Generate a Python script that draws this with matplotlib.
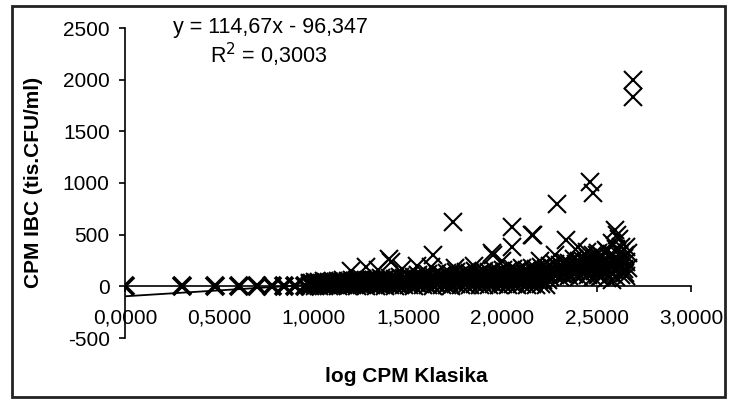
import matplotlib
matplotlib.use("Agg")
import matplotlib.pyplot as plt
import matplotlib.patches as patches
import numpy as np

plt.rcParams['font.family'] = ['Liberation Sans', 'DejaVu Sans']
plt.rcParams['axes.unicode_minus'] = False

# discrete low counts (all at zero)
x_low = [0.0, 0.301, 0.477, 0.602, 0.699, 0.778, 0.845, 0.903, 0.954]
y_low = [0, 0, 0, 0, 0, 0, 0, 0, 0]

# dense band
x_band = [0.98, 1.005, 1.03, 1.055, 1.08, 1.105, 1.13, 1.155, 1.18, 1.205,
          1.23, 1.255, 1.28, 1.305, 1.33, 1.355, 1.38, 1.405, 1.43, 1.455,
          1.48, 1.505, 1.53, 1.555, 1.58, 1.605, 1.63, 1.655, 1.68, 1.705,
          1.73, 1.755, 1.78, 1.805, 1.83, 1.855, 1.88, 1.905, 1.93, 1.955,
          1.98, 2.005, 2.03, 2.055, 2.08, 2.105, 2.13, 2.155, 2.18, 2.205,
          2.23, 2.255, 2.28, 2.305, 2.33, 2.355, 2.38, 2.405, 2.43, 2.455,
          2.48, 2.505, 2.53, 2.555, 2.58, 2.605, 2.63, 2.655]
y_band_low = [0, 5, 2, 8, 3, 10, 4, 12, 6, 9,
              2, 14, 7, 11, 5, 15, 8, 13, 4, 16,
              9, 12, 6, 18, 10, 14, 7, 20, 11, 15,
              8, 19, 12, 16, 9, 22, 13, 17, 10, 24,
              14, 18, 11, 25, 15, 20, 12, 26, 16, 21,
              13, 95, 105, 90, 110, 100, 115, 95, 120, 105,
              90, 110, 100, 85, 120, 95, 110, 100]
y_band_mid = [18, 25, 20, 28, 22, 30, 26, 32, 28, 35,
              30, 38, 34, 42, 36, 45, 40, 48, 42, 50,
              45, 55, 48, 58, 52, 62, 55, 65, 58, 68,
              62, 72, 66, 76, 70, 80, 74, 85, 78, 88,
              82, 92, 86, 96, 90, 100, 95, 105, 100, 110,
              105, 150, 160, 155, 170, 165, 180, 175, 190, 185,
              200, 210, 195, 220, 205, 230, 215, 240]
y_band_high = [35, 45, 40, 50, 42, 55, 48, 60, 52, 62,
               58, 68, 60, 75, 65, 80, 70, 85, 72, 90,
               85, 100, 90, 110, 95, 120, 100, 125, 105, 130,
               115, 135, 120, 140, 125, 145, 130, 150, 135, 155,
               140, 160, 145, 170, 150, 175, 160, 180, 165, 190,
               170, 200, 220, 210, 240, 230, 260, 250, 280, 270,
               300, 320, 290, 340, 310, 360, 330, 380]

x_band2 = [0.9925, 1.0175, 1.0425, 1.0675, 1.0925, 1.1175, 1.1425, 1.1675, 1.1925, 1.2175,
           1.2425, 1.2675, 1.2925, 1.3175, 1.3425, 1.3675, 1.3925, 1.4175, 1.4425, 1.4675,
           1.4925, 1.5175, 1.5425, 1.5675, 1.5925, 1.6175, 1.6425, 1.6675, 1.6925, 1.7175,
           1.7425, 1.7675, 1.7925, 1.8175, 1.8425, 1.8675, 1.8925, 1.9175, 1.9425, 1.9675,
           1.9925, 2.0175, 2.0425, 2.0675, 2.0925, 2.1175, 2.1425, 2.1675, 2.1925, 2.2175,
           2.2425, 2.2675, 2.2925, 2.3175, 2.3425, 2.3675, 2.3925, 2.4175, 2.4425, 2.4675,
           2.4925, 2.5175, 2.5425, 2.5675, 2.5925, 2.6175, 2.6425, 2.6675]
y_band2_a = [10, 14, 11, 18, 12, 20, 15, 22, 16, 24,
             18, 26, 20, 28, 22, 30, 24, 32, 25, 34,
             28, 36, 30, 38, 32, 40, 34, 42, 36, 44,
             38, 46, 40, 48, 42, 50, 44, 52, 46, 55,
             48, 56, 50, 58, 52, 60, 55, 62, 58, 65,
             60, 125, 130, 120, 140, 135, 150, 140, 155, 145,
             150, 160, 150, 165, 160, 175, 165, 180]
y_band2_b = [28, 35, 30, 40, 32, 42, 38, 46, 40, 50,
             45, 54, 48, 58, 50, 62, 55, 66, 58, 70,
             62, 75, 66, 80, 70, 85, 74, 90, 78, 95,
             84, 98, 88, 104, 92, 108, 96, 112, 100, 118,
             106, 122, 110, 128, 115, 132, 120, 138, 125, 145,
             130, 175, 190, 185, 205, 195, 220, 210, 235, 225,
             250, 265, 245, 280, 260, 300, 275, 320]

# scattered high values
x_out = [2.69, 2.69, 2.464, 2.482, 2.291, 1.74, 2.049, 2.049, 2.155, 2.16,
         2.34, 2.597, 2.61, 2.62, 2.58, 2.63, 2.55, 2.65, 2.6, 2.65,
         2.517, 2.58, 1.943, 1.95, 1.40, 1.41, 1.634, 1.28, 1.55, 1.2,
         1.47, 1.85, 2.4, 2.45, 2.5, 2.43, 2.28, 2.2, 2.0, 1.75,
         1.62, 1.34]
y_out = [2000, 1830, 1010, 905, 800, 622, 573, 380, 493, 500,
         445, 541, 500, 460, 420, 380, 350, 300, 250, 126,
         90, 58, 319, 300, 268, 240, 300, 187, 200, 150,
         170, 200, 380, 330, 300, 250, 300, 250, 250, 180,
         190, 160]

slope = 114.67
intercept = -96.347

fig = plt.figure(figsize=(7.42, 3.99), dpi=100)
ax = fig.add_axes([125/742, 1-338/399, 566/742, 310/399])

mk = dict(marker='x', ls='none', color='black', ms=13, mew=1.5)
# low counts overlap many times -> heavier strokes
ax.plot(x_low, y_low, marker='x', ls='none', color='black', ms=13, mew=2.6)
for yb in (y_band_low, y_band_mid, y_band_high):
    ax.plot(x_band, yb, **mk)
for yb in (y_band2_a, y_band2_b):
    ax.plot(x_band2, yb, **mk)
ax.plot(x_out, y_out, **mk)

# trendline over data range
all_x = x_low + x_band + x_band2 + x_out
tx = np.array([min(all_x), max(all_x)])
ax.plot(tx, slope*tx + intercept, color='black', lw=1.3)

ax.set_xlim(0, 3)
ax.set_ylim(-500, 2500)
ax.set_xticks([0, 0.5, 1, 1.5, 2, 2.5, 3])
ax.set_xticklabels(['0,0000', '0,5000', '1,0000', '1,5000', '2,0000', '2,5000', '3,0000'])
ax.set_yticks([-500, 0, 500, 1000, 1500, 2000, 2500])
ax.spines['top'].set_visible(False)
ax.spines['right'].set_visible(False)
ax.spines['bottom'].set_position(('data', 0))
ax.spines['bottom'].set_linewidth(1.2)
ax.spines['left'].set_linewidth(1.2)
ax.tick_params(axis='x', direction='out', length=4, width=1.2, pad=12, labelsize=15)
ax.tick_params(axis='y', direction='out', length=4, width=1.2, pad=7, labelsize=15)
ax.patch.set_alpha(0)

fig.text(270/742, 1-28/399, 'y = 114,67x - 96,347', ha='center', va='center', fontsize=15.5)
fig.text(269/742, 1-55/399, r'R$^{2}$ = 0,3003', ha='center', va='center', fontsize=15.5)
fig.text(406/742, 1-377/399, 'log CPM Klasika', ha='center', va='center',
         fontsize=15, fontweight='bold')
fig.text(34/742, 1-182/399, 'CPM IBC (tis.CFU/ml)', ha='center', va='center',
         fontsize=15, fontweight='bold', rotation=90)

fig.patches.append(patches.Rectangle((12/742, 1-397/399), 713/742, 391/399,
                                     transform=fig.transFigure, fill=False,
                                     edgecolor='#222222', lw=2))

fig.savefig('out.png', dpi=100)
